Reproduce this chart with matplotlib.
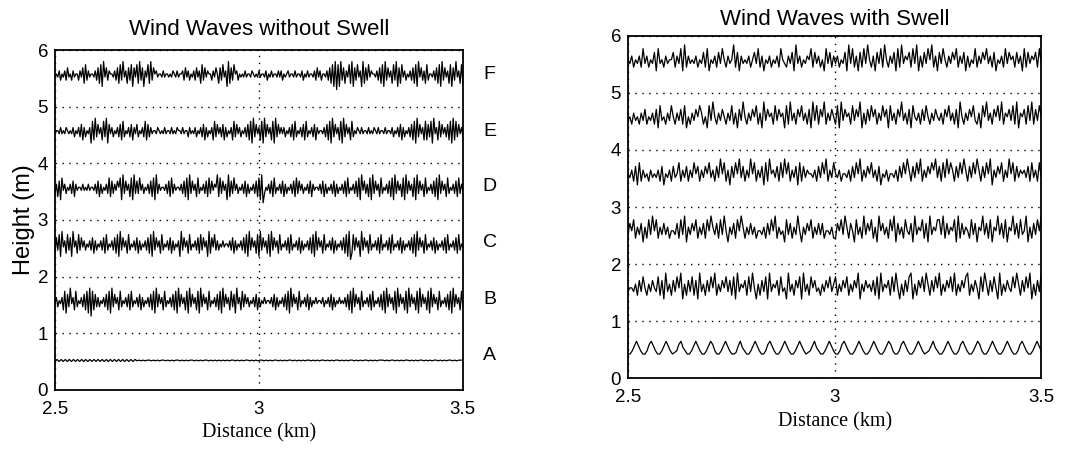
import numpy as np
import matplotlib.pyplot as plt

plt.rcParams['font.family'] = ['Liberation Sans', 'DejaVu Sans']

# surface records, one digit per sample (0..9 around the trace centre)
left_F = ("45463546374536455364728364554637281947365546372839462738174"
          "82937164829375645546455454654645563746354637462837465536475"
          "27384619273856354546455465454645546354645546463545645546455"
          "46354645546374635546372819081937264829173846192738465546372"
          "81937462839172846354637281947362835546372819374628173946282")
left_E = ("45546454654546354637263546182937462839174635463728354637264"
          "73546382736455465454645546454655464553645463546372635462837"
          "46372635462837463546372819374628193746281937464635463728354"
          "63728354637264554637281937462819374628354654645546454654645"
          "54645546354637263546372819374628273819462837463728192837463")
left_D = ("36271846354637264554645464554637263546382736475819374628193"
          "73846354637281936455463728364554637281937462835463728374659"
          "28374619273846354637263546372819035463728354637263546372837"
          "46354637264554637263546372635463728354637281947362819374628"
          "35463728193746281937462819374628354637281937462835463728364")
left_C = ("27381946283719462837463546372635463728354637281937462835463"
          "72635463728193746283546372635461937462835463728374619274836"
          "35464554637263546372819374628193746281937462835463728354637"
          "26354637281937462835463726354637281902837461937462835463728"
          "35463728354637263546372819374628354637263546372835463728354")
left_B = ("46354628173946283546372819082736354637281937462835463728354"
          "63726354637281937462835463728193746281937462819374628354637"
          "28193746283719462837463546372635464554637263546372819374628"
          "35463726354645546354637263546454637281937462835463728354637"
          "28193746281937462819374628193746281937462835463728193746283")
left_A = ("3636363636363636363636363636363636363636"
          "4545455454545545454554545455454545545454"
          "5454545545454554545455454545545454554545"
          "4545545454554545455454545545454554545455"
          "5454554545455454545545454554545455454555")

right_F = ("5463546384635472845364557364829364546354738254637485364"
           "5937264546357483625463546385436472946354658374635284736"
           "4635472948362738495362748395364728394657384926374859362"
           "7485364758364726354836475846372546384756374628374657384")
right_E = ("4536453647354637284536485364738253647586352849536475364"
           "8362749536475836294756384756283946375846372948375936475"
           "3829475638475926374857364857284637594637285463748536475"
           "4637584637295364758436285946375849365748392657384937485")
right_D = ("5463728364536454637254637458364736485736475846374958362"
           "7485947364958364728395647384958364728374655463748593648"
           "5463554637485936475846372546355463748596374859364758694"
           "7384958637485963748596374859264758364958374656473846384")
right_C = ("4758364726384958364746355473849264758364738596473849526"
           "4738596364746355463748593645284736495264758364747355463"
           "3758496375284639475836295746385927463854729465837294658"
           "8493746582937465384726594738265947382659473845926374859")
right_B = ("4554637485364754837294637485926374837294637485936475847"
           "3829465738495263748294657384529463758294638574536475846"
           "8364758364759264756473829465738495263748926375849637485"
           "9364758493647589364752849637485293647548596374859263749")
right_A = ("1136963113796311369631237953113696311369731136963"
           "1126953113696311379631136963113696312369531136963"
           "1137963113696311369631136973113796311369631236953"
           "1136963113796311369731136963113696311379631136963")

left_traces = [left_F, left_E, left_D, left_C, left_B, left_A]
right_traces = [right_F, right_E, right_D, right_C, right_B, right_A]
left_centres = [5.55, 4.55, 3.55, 2.55, 1.55, 0.52]
right_centres = [5.55, 4.55, 3.55, 2.55, 1.55, 0.52]
left_scale = [0.055, 0.055, 0.055, 0.055, 0.055, 0.012]
right_scale = [0.065, 0.065, 0.065, 0.065, 0.065, 0.028]

trace_names = ['F', 'E', 'D', 'C', 'B', 'A']
name_heights = [5.57, 4.57, 3.6, 2.6, 1.6, 0.6]
x_ticks = [2.5, 3, 3.5]
x_ticklabels = ['2.5', '3', '3.5']
y_ticks = [0, 1, 2, 3, 4, 5, 6]


def draw_panel(ax, traces, centres, scales, title, title_pad):
    for s, c, k in zip(traces, centres, scales):
        d = np.array([int(ch) for ch in s], dtype=float)
        h = c + (d - 4.5) * k
        dist = np.linspace(2.5, 3.5, len(d))
        ax.plot(dist, h, color='black', lw=0.9)
    ax.set_xlim(2.5, 3.5)
    ax.set_ylim(0, 6)
    ax.set_xticks(x_ticks)
    ax.set_xticklabels(x_ticklabels)
    ax.set_yticks(y_ticks)
    ax.tick_params(axis='y', length=0, labelsize=13.5, pad=5)
    ax.tick_params(axis='x', length=0, labelsize=13.5, pad=8)
    ax.grid(True, linestyle=(0, (1, 4)), color='black', lw=1.0)
    for sp in ax.spines.values():
        sp.set_linewidth(1.3)
    ax.set_title(title, fontsize=16, pad=title_pad)
    ax.set_xlabel('Distance (km)', family=['Liberation Serif', 'DejaVu Serif'],
                  fontsize=14.5, labelpad=4)


fig = plt.figure(figsize=(10.79, 4.55), dpi=100)

ax1 = fig.add_axes([0.051, 0.143, 0.378, 0.747])
draw_panel(ax1, left_traces, left_centres, left_scale,
           'Wind Waves without Swell', 11)
ax1.set_ylabel('Height (m)', fontsize=17, labelpad=2)
for name, yh in zip(trace_names, name_heights):
    ax1.text(1.066, yh, name, transform=ax1.get_yaxis_transform(),
             fontsize=14, ha='center', va='center')

ax2 = fig.add_axes([0.582, 0.169, 0.383, 0.752])
draw_panel(ax2, right_traces, right_centres, right_scale,
           'Wind Waves with Swell', 8)

fig.savefig('out.png', dpi=100)
